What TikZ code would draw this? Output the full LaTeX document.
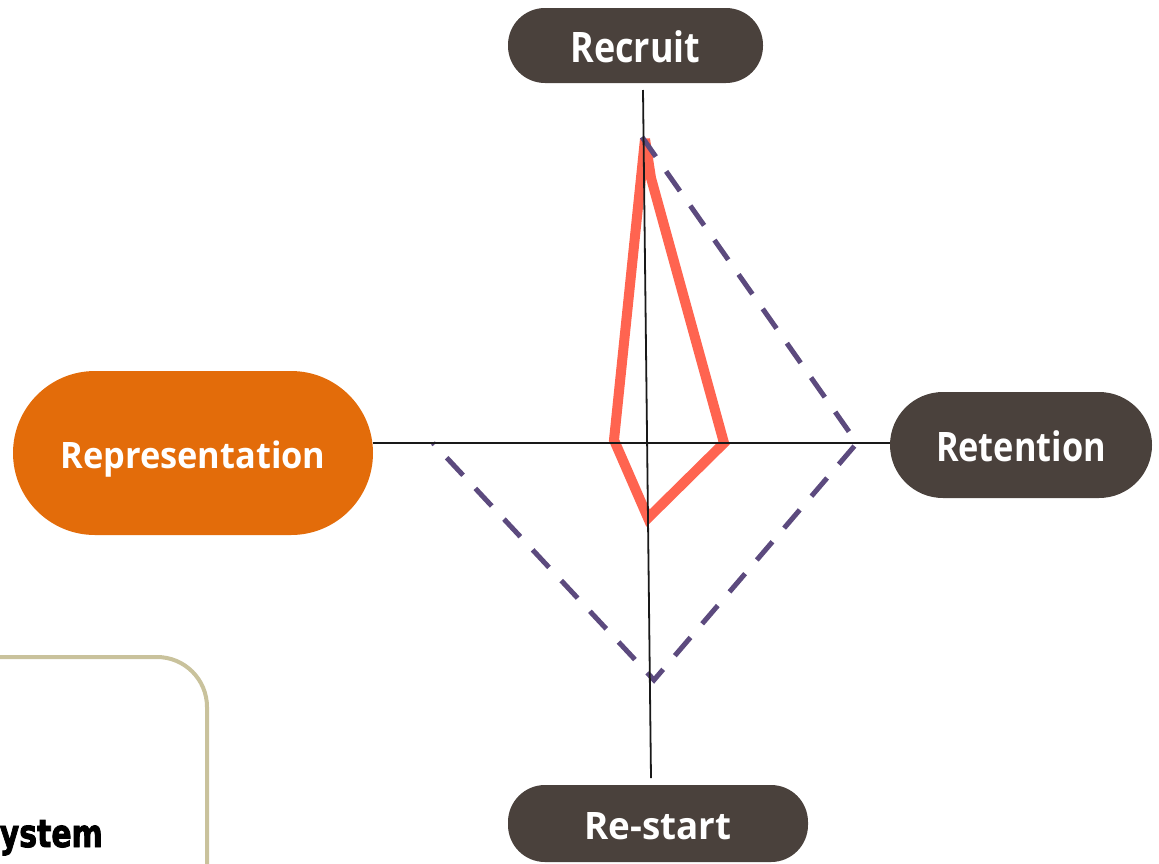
\documentclass[tikz,border=0pt]{standalone}
\usepackage{fontspec}
\setmainfont{Open Sans}
\newfontfamily\heavyfont{DejaVu Sans}[BoldFeatures={FakeBold=2.5}]
\usetikzlibrary{calc}

\definecolor{pillbrown}{HTML}{4A413C}
\definecolor{pillorange}{HTML}{E36C0A}
\definecolor{scorered}{HTML}{FF6450}
\definecolor{targetpurple}{HTML}{5C4A7E}
\definecolor{frametan}{HTML}{C9C29C}

% label set to a given width and capital height
\newcommand{\pilltext}[3]{\resizebox{#1}{#2}{\smash{#3}\vphantom{R}}}

\tikzset{
  pill/.style={fill=pillbrown, text=white, inner sep=0pt, font=\bfseries,
    text height=#1, text depth=0pt},
  axisline/.style={draw=black!90, line width=1.8pt},
  scoreline/.style={draw=scorered, line width=10pt, line join=miter, miter limit=4},
  targetline/.style={draw=targetpurple, line width=5pt,
    dash pattern=on 24pt off 18pt},
  frameline/.style={draw=frametan, line width=4pt, rounded corners=50pt},
}

\begin{document}
\begin{tikzpicture}[x=1pt, y=-1pt]
  \useasboundingbox (0,0) rectangle (1159,863);

  % category pills
  \node[pill=34pt, minimum width=255pt, minimum height=75pt, rounded corners=37pt]
    (recruit) at (635.5,45.5) {\pilltext{130pt}{30pt}{Recruit}};
  \node[pill=33pt, minimum width=262pt, minimum height=106pt, rounded corners=53pt]
    (retention) at (1021,445) {\pilltext{170pt}{29pt}{Retention}};
  \node[pill=32pt, minimum width=300pt, minimum height=77pt, rounded corners=37pt]
    (restart) at (658,823.5) {\pilltext{147pt}{27pt}{Re-start}};
  \node[pill=30pt, fill=pillorange, minimum width=360pt, minimum height=164pt, rounded corners=82pt]
    (representation) at (193,453) {\pilltext{265pt}{26pt}{Representation}};

  % frame in the lower left corner
  \draw[frameline] (-80,657) rectangle (207,980);
  \node[anchor=base east, inner sep=0pt, font=\heavyfont\bfseries] (system) at (103,847)
    {\resizebox{103pt}{27pt}{ystem}};

  % current scores
  \coordinate (r1) at (645,139);
  \coordinate (r2) at (651,178);
  \coordinate (r3) at (724,443);
  \coordinate (r4) at (648,518);
  \coordinate (r5) at (614,440);
  \draw[scoreline] (r1) -- (r2) -- (r3) -- (r4) -- (r5) -- cycle;

  % target scores
  \coordinate (t1) at (642,137);
  \coordinate (t2) at (857,443);
  \coordinate (t3) at (654,680);
  \coordinate (t4) at (433,443);
  \draw[targetline] (t1) -- (t2) -- (t3) -- (t4);

  % axes
  \coordinate (axtop) at (643,90);
  \coordinate (axbot) at (651,778);
  \draw[axisline] (axtop) -- (axbot);
  \draw[axisline] (representation.east |- 0,443) -- (retention.west |- 0,443);
\end{tikzpicture}
\end{document}
